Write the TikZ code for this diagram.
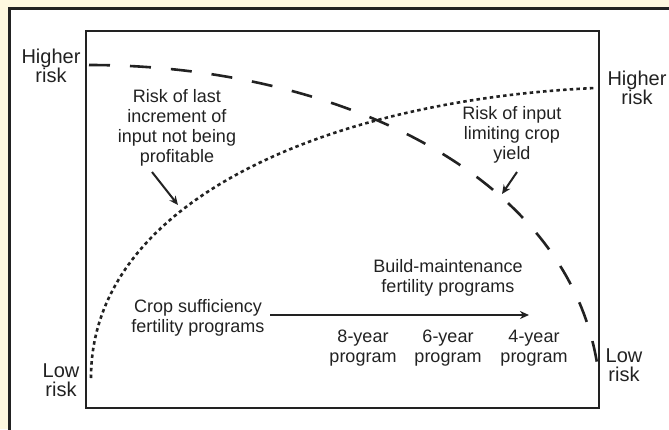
\documentclass[tikz,border=0pt]{standalone}
\usepackage{fontspec}
\setmainfont{Liberation Sans}
\usetikzlibrary{arrows.meta}
\definecolor{cream}{HTML}{FEF8E0}
\definecolor{ink}{HTML}{222222}
\tikzset{
  axislbl/.style={inner sep=0pt, align=center, text=ink, font=\fontsize{20}{19}\selectfont},
  note/.style={inner sep=0pt, align=center, text=ink, font=\fontsize{18}{20}\selectfont},
  ptr/.style={draw=ink, line width=2pt, -{Stealth[length=9pt,width=8pt]}},
  dashcurve/.style={draw=ink, line width=2.6pt, dash pattern=on 21pt off 20pt},
  dotcurve/.style={draw=ink, line width=2.6pt, dash pattern=on 3.5pt off 3.2pt},
}
\begin{document}
\begin{tikzpicture}[x=1pt,y=-1pt]
\useasboundingbox (0,0) rectangle (669,429);
\clip (0,0) rectangle (669,429);
\fill[cream] (0,0) rectangle (669,429);
\draw[ink, line width=3pt, fill=white] (9,8) rectangle (720,480);
% inner box
\draw[ink, line width=2.5pt] (86,31) rectangle (599,408);
% curves
\draw[dashcurve] (89,65) .. controls (330,65) and (565,170) .. (597,363);
\draw[dotcurve] (91,378) .. controls (91,200) and (330,100) .. (595,88);
% axis labels
\node[axislbl] (hl) at (51,66) {Higher\\risk};
\node[axislbl] (hr) at (637,87.5) {Higher\\risk};
\node[axislbl] (ll) at (61,380) {Low\\risk};
\node[axislbl] (lr) at (624,365) {Low\\risk};
% annotations
\node[note] (a1) at (177,128) {Risk of last\\increment of\\input not being\\profitable};
\node[note] (a2) at (512,135) {Risk of input\\limiting crop\\yield};
\node[note] (a3) at (198,317.5) {Crop sufficiency\\fertility programs};
\node[note] (a4) at (448,277.5) {Build-maintenance\\fertility programs};
\node[note] (y8) at (363,348.5) {8-year\\program};
\node[note] (y6) at (448,348.5) {6-year\\program};
\node[note] (y4) at (534,348.5) {4-year\\program};
% arrows
\coordinate (p1s) at (152,172);
\coordinate (p1e) at (178,205);
\coordinate (p2s) at (517,172);
\coordinate (p2e) at (502,194);
\coordinate (p3s) at (270,315);
\coordinate (p3e) at (529,315);
\draw[ptr] (p1s) -- (p1e);
\draw[ptr] (p2s) -- (p2e);
\draw[ptr, line width=2.5pt] (p3s) -- (p3e);
\end{tikzpicture}
\end{document}
